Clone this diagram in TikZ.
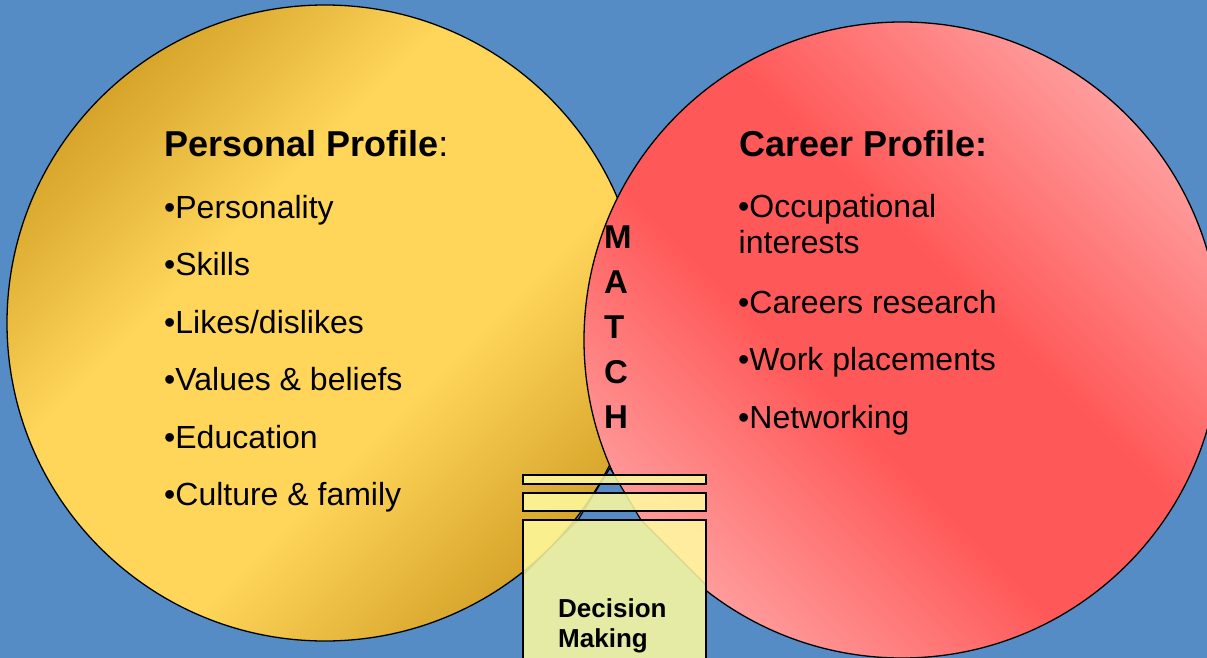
\documentclass[tikz,border=0pt]{standalone}
\usepackage{fontspec}
\setmainfont{Liberation Sans}
\usepackage{xcolor}
\usepackage{tikz}
\usetikzlibrary{positioning}
\definecolor{bgblue}{RGB}{86,140,198}
\definecolor{golddark}{RGB}{214,164,42}
\definecolor{goldlight}{RGB}{255,214,90}
\definecolor{reddark}{RGB}{255,88,88}
\definecolor{redlight}{RGB}{255,156,156}
\definecolor{boxyellow}{RGB}{255,252,160}
\pgfdeclareverticalshading{goldshade}{100bp}{color(0bp)=(golddark);
  color(25bp)=(golddark); color(41bp)=(goldlight); color(60bp)=(goldlight);
  color(75bp)=(golddark); color(100bp)=(golddark)}
\pgfdeclareverticalshading{redshade}{100bp}{color(0bp)=(redlight);
  color(25bp)=(redlight); color(43bp)=(reddark); color(56bp)=(reddark);
  color(75bp)=(redlight); color(100bp)=(redlight)}
\tikzstyle{ptitle} = [anchor=base west, inner sep=0pt,
                      font=\fontsize{36}{40}\selectfont\bfseries]
\tikzstyle{pitem}  = [anchor=base west, inner sep=0pt,
                      font=\fontsize{32}{36}\selectfont]
\tikzstyle{pletter}= [anchor=base west, inner sep=0pt,
                      font=\fontsize{33}{36}\selectfont\bfseries]
\tikzstyle{pbar}   = [draw, line width=1.8pt, fill=boxyellow, fill opacity=0.85]
\begin{document}
\begin{tikzpicture}[x=1pt,y=-1pt]
\fill[bgblue] (0,0) rectangle (1207,658);
\useasboundingbox (0,0) rectangle (1207,658);
\clip (0,0) rectangle (1207,658);
% Two profiles
\draw[line width=1.3pt, shade, shading=goldshade, shading angle=45]
  (325,323) circle[radius=318pt];
\draw[line width=1.3pt, shade, shading=redshade, shading angle=-45]
  (902,340) circle[radius=318pt];
% Funnel and decision boxes
\draw[fill=bgblue, line width=1.2pt] (610,468) -- (578,520) -- (523,575)
  -- (523,680) -- (706,680) -- (706,585) -- (641,520) -- cycle;
\draw[pbar] (523,475) rectangle (706,484);
\draw[pbar] (523,493) rectangle (706,511);
\draw[pbar] (523,520) rectangle (706,690);
\node[anchor=north west, inner sep=0pt, align=left,
  font=\fontsize{26}{30}\selectfont\bfseries] (dec) at (558,598) {Decision\\Making};
% Personal profile
\node[ptitle] (pers) at (164,157) {Personal Profile\textmd{:}};
\foreach \txt [count=\i] in {Personality,Skills,Likes/dislikes,
    Values \& beliefs,Education,Culture \& family}
  \node[pitem] (pers\i) at (164,{218+57.5*(\i-1)}) {\textbullet\txt};
% Career profile
\node[ptitle] (car) at (739.5,157) {Career Profile:};
\node[pitem] (car1) at (738,217) {\textbullet Occupational};
\node[pitem] (car1b) at (738.5,253) {interests};
\foreach \txt/\y [count=\i from 2] in {Careers research/313,
    Work placements/370,Networking/428}
  \node[pitem] (car\i) at (738,\y) {\textbullet\txt};
% MATCH down the overlap
\foreach \ch [count=\i] in {M,A,T,C,H}
  \node[pletter] (match\i) at (604,{248+45*(\i-1)}) {\ch};
\end{tikzpicture}
\end{document}
